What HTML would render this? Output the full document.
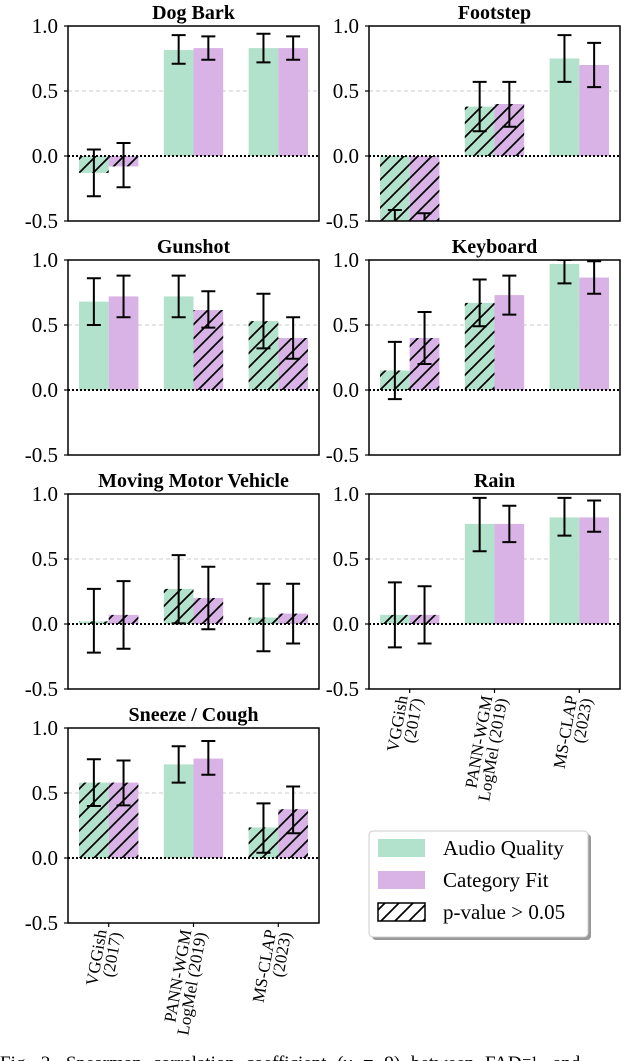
<!DOCTYPE html>
<html><head><meta charset="utf-8"><style>
html,body{margin:0;padding:0;background:#fff;}
svg{display:block;}
svg text{font-family:"Liberation Serif","DejaVu Serif",serif;font-style:normal;}
</style></head><body>
<svg id="fig" width="640" height="1061" viewBox="0 0 640 1061" xmlns="http://www.w3.org/2000/svg">
<defs>
<pattern id="hatch" patternUnits="userSpaceOnUse" width="14" height="14">
<path d="M-2,2 L2,-2 M0,14 L14,0 M12,16 L16,12" stroke="#000" stroke-width="1.7"/>
</pattern>
</defs>
</svg>
<script>
const categories = ["Dog Bark","Footstep","Gunshot","Keyboard","Moving Motor Vehicle","Rain","Sneeze / Cough"];
const models = [["VGGish","(2017)"],["PANN-WGM","LogMel (2019)"],["MS-CLAP","(2023)"]];
const yTicks = [1.0, 0.5, 0.0, -0.5];
const yTickLabels = ["1.0","0.5","0.0","-0.5"];
const aqValues = [[-0.13,0.815,0.83],[-0.6,0.38,0.75],[0.68,0.72,0.53],[0.15,0.67,0.97],[0.02,0.27,0.05],[0.07,0.77,0.82],[0.58,0.72,0.235]];
const aqLow = [[-0.31,0.71,0.72],[-0.8,0.19,0.57],[0.5,0.56,0.32],[-0.07,0.49,0.82],[-0.22,0.005,-0.21],[-0.18,0.56,0.68],[0.40,0.58,0.04]];
const aqHigh = [[0.05,0.93,0.94],[-0.415,0.57,0.93],[0.86,0.88,0.74],[0.37,0.85,1.0],[0.27,0.53,0.31],[0.32,0.97,0.97],[0.76,0.86,0.42]];
const aqHatched = [[1,0,0],[1,1,0],[0,0,1],[1,1,0],[1,1,1],[1,0,0],[1,0,1]];
const cfValues = [[-0.08,0.83,0.83],[-0.6,0.40,0.70],[0.72,0.615,0.40],[0.40,0.73,0.865],[0.07,0.20,0.08],[0.07,0.77,0.82],[0.58,0.765,0.375]];
const cfLow = [[-0.24,0.74,0.74],[-0.8,0.225,0.53],[0.56,0.48,0.24],[0.20,0.58,0.74],[-0.19,-0.04,-0.15],[-0.15,0.63,0.71],[0.405,0.64,0.19]];
const cfHigh = [[0.10,0.92,0.92],[-0.44,0.57,0.87],[0.88,0.76,0.56],[0.60,0.88,0.99],[0.33,0.44,0.31],[0.29,0.91,0.95],[0.75,0.90,0.55]];
const cfHatched = [[1,0,0],[1,1,0],[0,1,1],[1,0,0],[1,1,1],[1,0,0],[1,0,1]];

const NS="http://www.w3.org/2000/svg";
const svg=document.getElementById('fig');
const FONT='"Liberation Serif", "DejaVu Serif", serif';
function mk(tag,attrs,parent){const e=document.createElementNS(NS,tag);for(const k in attrs)e.setAttribute(k,attrs[k]);if(tag==='text')e.setAttribute('font-family',FONT);(parent||svg).appendChild(e);return e;}
const GREEN="#b3e2cc", PURPLE="#d9b3e6";
const colX=[68,369], rowY=[26,260,494,728], AW=251, AH=195;
const XMIN=-0.48, XMAX=2.48, YMIN=-0.5, YMAX=1.0, BW=0.35;

categories.forEach((cat,ci)=>{
  const col=ci%2,row=Math.floor(ci/2);
  const x0=colX[col],y0=rowY[row];
  const xs=v=>x0+(v-XMIN)/(XMAX-XMIN)*AW;
  const ys=v=>y0+(YMAX-v)/(YMAX-YMIN)*AH;
  const g=mk('g',{});
  
  
  const cid='clip'+ci;
  const cp=mk('clipPath',{id:cid},g);mk('rect',{x:x0,y:y0,width:AW,height:AH},cp);
  const gl=mk('line',{x1:x0,x2:x0+AW,y1:ys(0.5),y2:ys(0.5),stroke:'#bbb','stroke-width':0.8,'stroke-dasharray':'4,3'},g);
  
  
  const series=[[aqValues,aqLow,aqHigh,aqHatched,GREEN,'audio-quality',-1],[cfValues,cfLow,cfHigh,cfHatched,PURPLE,'category-fit',1]];
  const bars=mk('g',{'clip-path':'url(#'+cid+')'},g);
  series.forEach(s=>{
    for(let m=0;m<3;m++){
      const v=s[0][ci][m];
      const left=s[6]<0?m-BW:m, right=s[6]<0?m:m+BW;
      const top=Math.min(ys(v),ys(0)),h=Math.abs(ys(v)-ys(0));
      const r=mk('rect',{x:xs(left),y:top,width:xs(right)-xs(left),height:h,fill:s[4]},bars);
      
      
      if(s[3][ci][m]){
        const hr=mk('rect',{x:xs(left),y:top,width:xs(right)-xs(left),height:h,fill:'url(#hatch)'},bars);
        
        
      }
    }
  });
  const zl=mk('line',{x1:x0,x2:x0+AW,y1:ys(0),y2:ys(0),stroke:'#000','stroke-width':2,'stroke-dasharray':'2,2'},g);
  
  
  const eg=mk('g',{'clip-path':'url(#'+cid+')',stroke:'#000','stroke-width':2},g);
  series.forEach(s=>{
    for(let m=0;m<3;m++){
      const cx=xs(m+s[6]*BW/2);
      const lo=ys(s[1][ci][m]),hi=ys(s[2][ci][m]);
      const e=mk('path',{d:`M${cx},${lo}V${hi}M${cx-7},${lo}H${cx+7}M${cx-7},${hi}H${cx+7}`,fill:'none'},eg);
      
      
    }
  });
  const fr=mk('rect',{x:x0,y:y0,width:AW,height:AH,fill:'none',stroke:'#000','stroke-width':1.5},g);
  
  
  yTicks.forEach((t,i)=>{
    mk('line',{x1:x0-4,x2:x0,y1:ys(t),y2:ys(t),stroke:'#000','stroke-width':1.2},g);
    const tl=mk('text',{x:x0-10,y:ys(t)+7,'text-anchor':'end','font-size':21},g);
    tl.textContent=yTickLabels[i];
    
    
  });
  const tt=mk('text',{x:x0+AW/2,y:y0-7,'text-anchor':'middle','font-size':20,'font-weight':'bold'},g);
  tt.textContent=cat;
  
  
  const isBottom=(col===0&&row===3)||(col===1&&row===2);
  if(isBottom){
    models.forEach((ml,m)=>{
      const cx=xs(m),yb=y0+AH;
      mk('line',{x1:cx,x2:cx,y1:yb,y2:yb+4,stroke:'#000','stroke-width':1.2},g);
      const t=mk('text',{transform:`translate(${cx},${yb+8}) rotate(-80)`,'text-anchor':'end','font-size':17},g);
      
      
      const a=mk('tspan',{x:0,y:-2},t);a.textContent=ml[0];
      const b=mk('tspan',{x:0,y:13},t);b.textContent=ml[1];
    });
  }
});
const lg=mk('g',{});


mk('rect',{x:372,y:834,width:219,height:106,rx:4,fill:'#999'},lg);
mk('rect',{x:369,y:831,width:219,height:106,rx:4,fill:'#fff',stroke:'#ccc','stroke-width':1},lg);
const items=[[GREEN,'Audio Quality',0],[PURPLE,'Category Fit',0],['#fff','p-value > 0.05',1]];
items.forEach((it,i)=>{
  const cy=848+i*32;
  const p=mk('rect',{x:378,y:cy-9,width:47,height:18,fill:it[0],stroke:it[2]?'#000':'none','stroke-width':1.5},lg);
  
  
  if(it[2]){mk('rect',{x:378,y:cy-9,width:47,height:18,fill:'url(#hatch)'},lg);}
  const t=mk('text',{x:443,y:cy+7,'font-size':21},lg);
  t.textContent=it[1];
  
  
});
const cap=mk('text',{x:0,y:1069,'font-size':19,'word-spacing':'6px'});
cap.textContent='Fig. 2.   Spearman correlation coefficient (ν = 9) between FAD⁻¹, and';


</script>
</body></html>
